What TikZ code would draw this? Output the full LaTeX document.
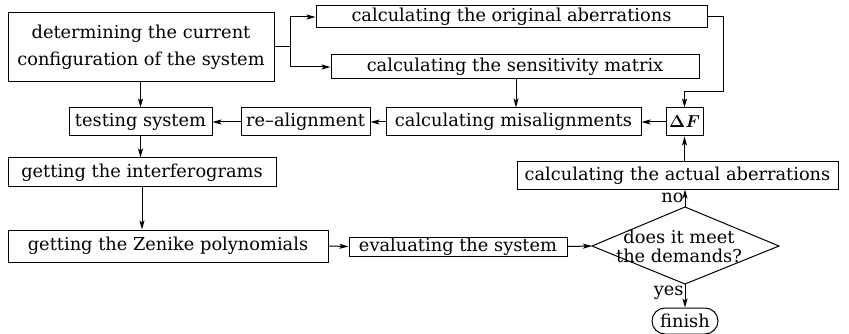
\documentclass[tikz,border=0pt]{standalone}
\usepackage{amsmath}
\usepackage{fontspec}
\setmainfont{DejaVu Serif}
\usetikzlibrary{arrows.meta}
\begin{document}
\begin{tikzpicture}[x=1pt,y=-1pt,
  every node/.style={font=\fontsize{17.8}{27}\selectfont},
  bx/.style={draw,line width=1pt,inner sep=0pt,align=center},
  ln/.style={line width=1pt},
  arr/.style={line width=1pt,-{Stealth[length=9pt,width=5pt,inset=2pt]}}]
\useasboundingbox (0,0) rectangle (849,334);
\node[bx,minimum width=266pt,minimum height=69pt] (det) at (141,47.5) {determining the current\\configuration of the system};
\node[bx,minimum width=391pt,minimum height=22pt] (orig) at (511.5,17) {calculating the original aberrations};
\node[bx,minimum width=368pt,minimum height=24pt] (sens) at (515,67) {calculating the sensitivity matrix};
\node[bx,minimum width=143pt,minimum height=28pt] (test) at (140.5,122) {testing system};
\node[bx,minimum width=129pt,minimum height=28pt] (realign) at (305.5,122) {re–alignment};
\node[bx,minimum width=255pt,minimum height=28pt] (mis) at (513.5,122) {calculating misalignments};
\node[bx,minimum width=37pt,minimum height=28pt] (dF) at (684.5,122) {$\boldsymbol{\Delta F}$};
\node[bx,minimum width=321pt,minimum height=27pt] (act) at (677.5,175.5) {calculating the actual aberrations};
\node[bx,minimum width=268pt,minimum height=29pt] (intf) at (142,172.5) {getting the interferograms};
\node[bx,minimum width=320pt,minimum height=32pt] (zen) at (168,246) {getting the Zenike polynomials};
\node[bx,minimum width=218pt,minimum height=19pt] (eval) at (458,246.5) {evaluating the system};
\coordinate (dL) at (592,246);
\coordinate (dR) at (779,246);
\coordinate (dT) at (685,207);
\coordinate (dB) at (685,284);
\draw[ln] (dT) -- (dR) -- (dB) -- (dL) -- cycle;
\node[align=center,inner sep=0pt,font=\fontsize{17.8}{19}\selectfont] (dtext) at (679,246) {does it meet\\the demands?};
\node[draw,line width=1pt,rounded corners=13pt,minimum width=66pt,minimum height=26pt,inner sep=0pt] (fin) at (685,321) {finish};
% connectors
\coordinate (br) at (290,47);
\draw[ln] (det.east |- br) -- (br);
\draw[arr] (br) |- (orig.west);
\draw[arr] (br) |- (sens.west);
\draw[arr] (det.south -| test.north) -- (test.north);
\draw[arr] (realign) -- (test);
\draw[arr] (mis) -- (realign);
\draw[arr] (dF) -- (mis);
\coordinate (oa) at (723,17);
\coordinate (ob) at (723,92);
\coordinate (oc) at (684.5,92);
\draw[arr] (orig.east) -- (oa) -- (ob) -- (oc) -- (dF.north);
\draw[arr] (sens.south -| 516,0) -- (mis.north -| 516,0);
\draw[arr] (act.north -| dF.south) -- (dF.south);
\draw[arr] (test.south) -- (test.south |- intf.north);
\draw[arr] (intf.south) -- (intf.south |- zen.north);
\draw[arr] (zen.east) -- (eval.west);
\draw[arr] (eval.east) -- (dL);
\draw[arr] (dT) -- (dT |- act.south) node[midway,left=1pt,inner sep=0pt,yshift=0pt] (no) {no};
\draw[arr] (dB) -- (fin.north) node[midway,left=1pt,inner sep=0pt,yshift=3pt] (yes) {yes};
\end{tikzpicture}
\end{document}
